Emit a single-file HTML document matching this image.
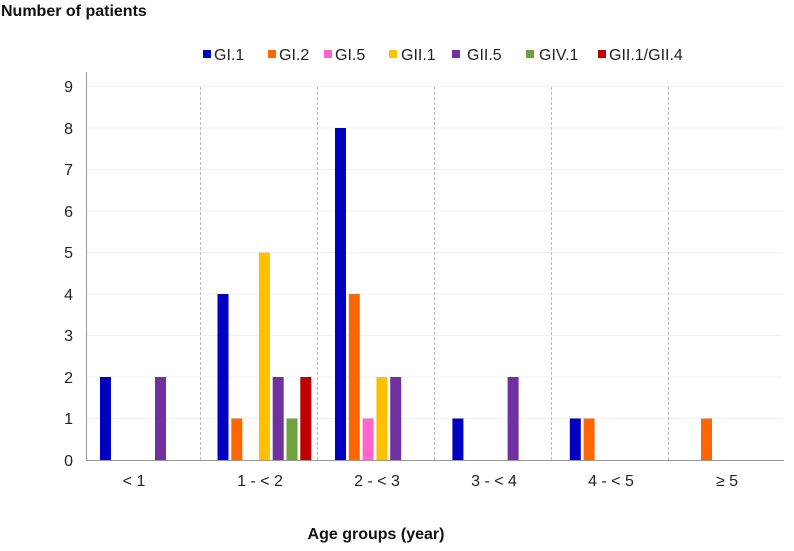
<!DOCTYPE html>
<html><head><style>body{margin:0;background:#fff}</style></head><body>
<svg width="794" height="546" xmlns="http://www.w3.org/2000/svg" font-family="Liberation Sans, Arial, sans-serif">
<rect width="794" height="546" fill="#fff"/>
<text x="1" y="16" font-size="16" font-weight="bold" fill="#111">Number of patients</text>
<g font-size="16" fill="#222">
<rect x="203" y="50" width="8" height="8" fill="#0000c0"/><text x="214" y="60">GI.1</text>
<rect x="268" y="50" width="8" height="8" fill="#ff6600"/><text x="279" y="60">GI.2</text>
<rect x="324" y="50" width="8" height="8" fill="#ff66cc"/><text x="335" y="60">GI.5</text>
<rect x="389" y="50" width="8" height="8" fill="#ffc000"/><text x="401" y="60">GII.1</text>
<rect x="452" y="50" width="8" height="8" fill="#7030a0"/><text x="467" y="60">GII.5</text>
<rect x="526" y="50" width="8" height="8" fill="#70a040"/><text x="539" y="60">GIV.1</text>
<rect x="598" y="50" width="8" height="8" fill="#c00000"/><text x="609" y="60">GII.1/GII.4</text>
</g>
<g stroke="#f0f0f0" stroke-width="1">
<line x1="86" x2="783" y1="86.5" y2="86.5"/><line x1="86" x2="783" y1="128" y2="128"/><line x1="86" x2="783" y1="169.5" y2="169.5"/><line x1="86" x2="783" y1="211" y2="211"/><line x1="86" x2="783" y1="252.5" y2="252.5"/><line x1="86" x2="783" y1="294" y2="294"/><line x1="86" x2="783" y1="335.5" y2="335.5"/><line x1="86" x2="783" y1="377" y2="377"/><line x1="86" x2="783" y1="418.5" y2="418.5"/>
</g>
<g stroke="#bbb" stroke-dasharray="3,2" stroke-width="1">
<line x1="200.5" x2="200.5" y1="87" y2="460"/><line x1="317.5" x2="317.5" y1="87" y2="460"/><line x1="434.5" x2="434.5" y1="87" y2="460"/><line x1="551.5" x2="551.5" y1="87" y2="460"/><line x1="668.5" x2="668.5" y1="87" y2="460"/>
</g>
<line x1="86.5" x2="86.5" y1="72" y2="460" stroke="#999"/>
<line x1="86" x2="784" y1="460.5" y2="460.5" stroke="#999"/>
<g font-size="16" fill="#222" text-anchor="end">
<text x="73" y="466">0</text><text x="73" y="424">1</text><text x="73" y="383">2</text><text x="73" y="341">3</text><text x="73" y="300">4</text><text x="73" y="258">5</text><text x="73" y="217">6</text><text x="73" y="175">7</text><text x="73" y="134">8</text><text x="73" y="92">9</text>
</g>
<g>
<rect x="100" y="377" width="11" height="83" fill="#0000c0"/>
<rect x="155" y="377" width="11" height="83" fill="#7030a0"/>
<rect x="217.5" y="294" width="11" height="166" fill="#0000c0"/>
<rect x="231.3" y="418.5" width="11" height="41.5" fill="#ff6600"/>
<rect x="258.9" y="252.5" width="11" height="207.5" fill="#ffc000"/>
<rect x="272.7" y="377" width="11" height="83" fill="#7030a0"/>
<rect x="286.5" y="418.5" width="11" height="41.5" fill="#70a040"/>
<rect x="300.3" y="377" width="11" height="83" fill="#c00000"/>
<rect x="335" y="128" width="11" height="332" fill="#0000c0"/>
<rect x="348.8" y="294" width="11" height="166" fill="#ff6600"/>
<rect x="362.6" y="418.5" width="11" height="41.5" fill="#ff66cc"/>
<rect x="376.4" y="377" width="11" height="83" fill="#ffc000"/>
<rect x="390.2" y="377" width="11" height="83" fill="#7030a0"/>
<rect x="452.4" y="418.5" width="11" height="41.5" fill="#0000c0"/>
<rect x="507.6" y="377" width="11" height="83" fill="#7030a0"/>
<rect x="569.8" y="418.5" width="11" height="41.5" fill="#0000c0"/>
<rect x="583.6" y="418.5" width="11" height="41.5" fill="#ff6600"/>
<rect x="701" y="418.5" width="11" height="41.5" fill="#ff6600"/>
</g>
<g font-size="16" fill="#222" text-anchor="middle">
<text x="134" y="486">&lt; 1</text><text x="260" y="486">1 - &lt; 2</text><text x="377" y="486">2 - &lt; 3</text><text x="494" y="486">3 - &lt; 4</text><text x="611" y="486">4 - &lt; 5</text><text x="727" y="486">≥ 5</text>
</g>
<text x="376" y="539" font-size="16" font-weight="bold" fill="#111" text-anchor="middle">Age groups (year)</text>
</svg>
</body></html>
